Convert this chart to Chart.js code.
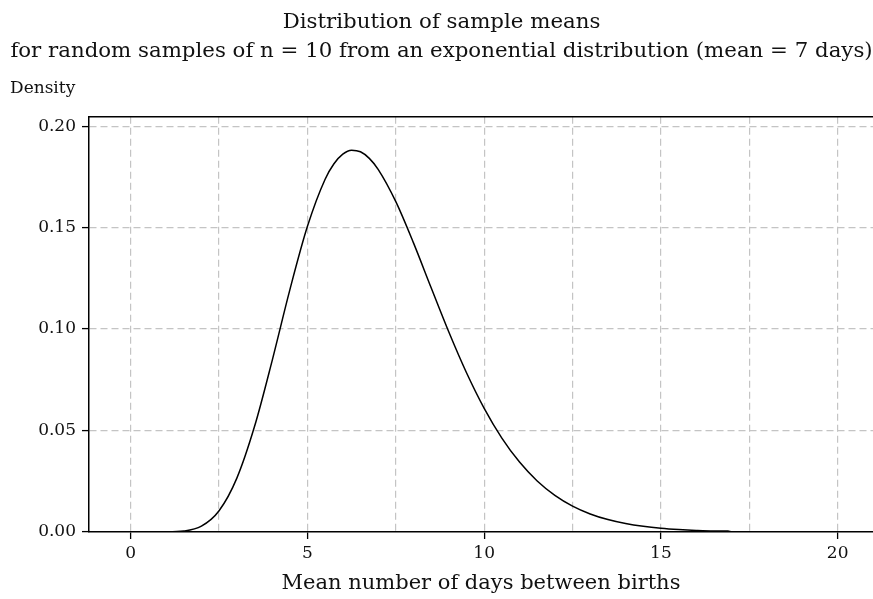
<!DOCTYPE html>
<html>
<head>
<meta charset="utf-8">
<title>Distribution of sample means</title>
<script src="https://cdn.jsdelivr.net/npm/chart.js@4"></script>
<style>
  body { margin: 0; background: #fff; }
  canvas { display: block; }
</style>
</head>
<body>
<canvas id="myChart" width="873" height="599"></canvas>
<script>
const meanDays = [
    0, 0.5, 1, 1.5, 2, 2.5, 3, 3.5, 4, 4.5, 5, 5.5, 5.75, 6, 6.25, 6.5, 6.75,
    7, 7.5, 8, 8.5, 9, 9.5, 10, 10.5, 11, 11.5, 12, 12.5, 13, 13.5, 14, 14.5,
    15, 15.5, 16, 16.5, 16.9, 17, 18, 19, 20
];
const density = [
    0, 0, 0.00002, 0.00044, 0.00287, 0.01047, 0.02643, 0.05182, 0.08435, 0.1192, 0.15063, 0.17385, 0.18147, 0.18623, 0.18817, 0.18737, 0.18412,
    0.17872, 0.16279, 0.14246, 0.12035, 0.09856, 0.07849, 0.06096, 0.0463, 0.03446, 0.02516, 0.01807, 0.01277, 0.0089, 0.00612, 0.00415, 0.00279,
    0.00185, 0.00122, 0.00079, 0.00055, 0.0005, 0, 0, 0, 0
];

// axis ticks
const xTicks = [0, 2.5, 5, 7.5, 10, 12.5, 15, 17.5, 20];
const yTicks = [0, 0.05, 0.10, 0.15, 0.20];

const titleLines = [
    'Distribution of sample means',
    'for random samples of n = 10 from an exponential distribution (mean = 7 days)'
];

const points = meanDays.map((x, i) => ({ x: x, y: density[i] }));

const gridGrey = '#c4c4c4';

Chart.defaults.font.family = "'DejaVu Serif', serif";
Chart.defaults.color = '#111';

// top edge of the plot frame
const frameTop = {
    id: 'frameTop',
    afterDraw(chart) {
        const { ctx, chartArea } = chart;
        ctx.save();
        ctx.strokeStyle = '#000';
        ctx.lineWidth = 1.5;
        ctx.beginPath();
        ctx.moveTo(chartArea.left, chartArea.top);
        ctx.lineTo(chartArea.right, chartArea.top);
        ctx.stroke();
        ctx.restore();
    }
};

const config = {
    type: 'line',
    data: {
        datasets: [{
            data: points,
            borderColor: '#000',
            borderWidth: 1.5,
            pointRadius: 0,
            fill: false,
            cubicInterpolationMode: 'monotone'
        }]
    },
    options: {
        responsive: false,
        animation: false,
        layout: { padding: { left: 10, right: 0, top: 0, bottom: 0 } },
        plugins: {
            legend: { display: false },
            tooltip: { enabled: false },
            title: {
                display: true,
                text: titleLines,
                font: { size: 21.3, weight: 'normal', lineHeight: 1.38 },
                color: '#111',
                padding: { top: 7.5, bottom: 6 }
            },
            subtitle: {
                display: true,
                text: 'Density',
                align: 'start',
                font: { size: 17, lineHeight: 1.2 },
                color: '#111',
                padding: { top: 6.3, bottom: 17.8 }
            }
        },
        scales: {
            x: {
                type: 'linear',
                min: -1.18,
                max: 21,
                afterBuildTicks: (scale) => { scale.ticks = xTicks.map(v => ({ value: v })); },
                afterFit: (scale) => { scale.height = 67; },
                ticks: {
                    font: { size: 17 },
                    padding: 4,
                    maxRotation: 0,
                    autoSkip: false,
                    callback: (v) => (v % 5 === 0 ? String(v) : '')
                },
                grid: {
                    color: gridGrey,
                    lineWidth: 1.2,
                    tickLength: 7,
                    tickWidth: 1.3,
                    tickColor: (ctx) => (ctx.tick && ctx.tick.value % 5 === 0 ? '#000' : 'rgba(0,0,0,0)')
                },
                border: { color: '#000', width: 1.5, dash: [7, 4] },
                title: {
                    display: true,
                    text: 'Mean number of days between births',
                    font: { size: 21 },
                    color: '#111',
                    padding: { top: 6, bottom: 3 }
                }
            },
            y: {
                min: 0,
                max: 0.2046,
                afterBuildTicks: (scale) => { scale.ticks = yTicks.map(v => ({ value: v })); },
                afterFit: (scale) => { scale.width = 79; },
                ticks: {
                    font: { size: 17 },
                    padding: 6,
                    callback: (v) => v.toFixed(2)
                },
                grid: {
                    color: (ctx) => (ctx.tick && ctx.tick.value === 0 ? 'rgba(0,0,0,0)' : gridGrey),
                    lineWidth: 1.2,
                    tickLength: 7,
                    tickWidth: 1.3,
                    tickColor: '#000'
                },
                border: { color: '#000', width: 1.5, dash: [7, 4] }
            }
        }
    },
    plugins: [frameTop]
};

const myChart = new Chart(document.getElementById('myChart'), config);
</script>
</body>
</html>
